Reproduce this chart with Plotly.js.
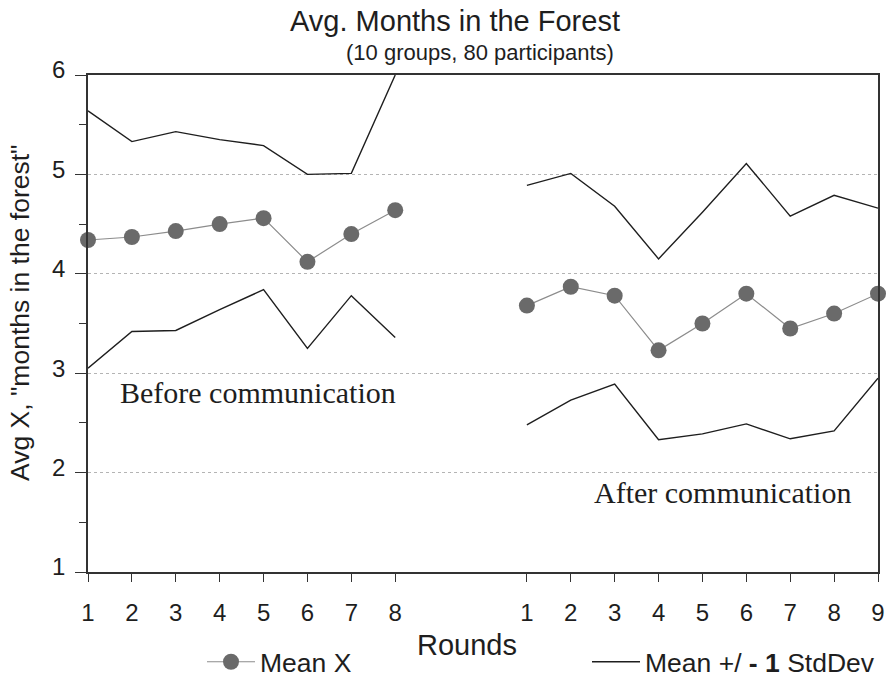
<!DOCTYPE html>
<html>
<head>
<meta charset="utf-8">
<script src="https://cdn.plot.ly/plotly-3.0.1.min.js"></script>
<style>html,body{margin:0;padding:0;background:#fff;}#chart{width:886px;height:679px;}</style>
</head>
<body>
<div id="chart"></div>
<script>
// Axis positions (gap of two empty slots between the two phases)
const beforeX = [1, 2, 3, 4, 5, 6, 7, 8];
const afterX = [11, 12, 13, 14, 15, 16, 17, 18, 19];
const tickPositions = [1, 2, 3, 4, 5, 6, 7, 8, 11, 12, 13, 14, 15, 16, 17, 18, 19];
const tickLabels = ['1','2','3','4','5','6','7','8','1','2','3','4','5','6','7','8','9'];
const yTicks = [1, 2, 3, 4, 5, 6];
const yMinorTicks = [1.5, 2.5, 3.5, 4.5, 5.5];

// Before communication
const beforeMean  = [4.34, 4.37, 4.43, 4.50, 4.56, 4.12, 4.40, 4.64];
const beforeUpper = [5.64, 5.33, 5.43, 5.35, 5.29, 5.00, 5.01, 6.00];
const beforeLower = [3.05, 3.42, 3.43, 3.64, 3.84, 3.25, 3.78, 3.36];

// After communication
const afterMean  = [3.68, 3.87, 3.78, 3.23, 3.50, 3.80, 3.45, 3.60, 3.80];
const afterUpper = [4.89, 5.01, 4.68, 4.15, 4.62, 5.11, 4.58, 4.79, 4.66];
const afterLower = [2.48, 2.73, 2.89, 2.33, 2.39, 2.49, 2.34, 2.42, 2.95];

const SANS = '"Liberation Sans", Arial, Helvetica, sans-serif';
const SERIF = '"Liberation Serif", "Times New Roman", serif';
const INK = '#1e1e1e';
const SD_NAME = 'Mean +/ <b>- 1</b> StdDev';

const meanStyle = {
  mode: 'lines+markers',
  line: {color: '#8c8c8c', width: 1.2},
  marker: {color: '#6a6a6a', size: 16, symbol: 'circle'},
  cliponaxis: false,
  legend: 'legend',
  legendgroup: 'mean',
  hoverinfo: 'x+y'
};
const sdStyle = {
  mode: 'lines',
  line: {color: INK, width: 1.4},
  legend: 'legend2',
  legendgroup: 'sd',
  hoverinfo: 'x+y'
};

const traces = [
  Object.assign({x: beforeX, y: beforeUpper, name: SD_NAME, showlegend: true}, sdStyle),
  Object.assign({x: beforeX, y: beforeLower, name: SD_NAME, showlegend: false}, sdStyle),
  Object.assign({x: afterX, y: afterUpper, name: SD_NAME, showlegend: false}, sdStyle),
  Object.assign({x: afterX, y: afterLower, name: SD_NAME, showlegend: false}, sdStyle),
  Object.assign({x: beforeX, y: beforeMean, name: 'Mean X', showlegend: true}, meanStyle),
  Object.assign({x: afterX, y: afterMean, name: 'Mean X', showlegend: false}, meanStyle)
];

const L = 88, R = 8, T = 75, B = 107, W = 886, H = 679;
const PW = W - L - R, PH = H - T - B;
const px = v => (v - L) / PW;
const py = v => (H - B - v) / PH;

const legendBase = {
  orientation: 'h', xanchor: 'left', yanchor: 'middle',
  font: {family: SANS, size: 26.5, color: INK},
  itemwidth: 48,
  bgcolor: 'rgba(0,0,0,0)', borderwidth: 0,
  itemclick: false, itemdoubleclick: false
};

const layout = {
  width: W, height: H,
  margin: {l: L, r: R, t: T, b: B, pad: 0, autoexpand: false},
  paper_bgcolor: '#fff', plot_bgcolor: '#fff',
  font: {family: SANS, color: INK, size: 22},
  title: {
    text: 'Avg. Months in the Forest',
    font: {family: SANS, size: 29, color: INK},
    x: 455 / W, xanchor: 'center',
    xref: 'container', yref: 'container',
    y: 1 - 21 / H, yanchor: 'middle'
  },
  showlegend: true,
  legend: Object.assign({x: px(202), y: py(662)}, legendBase),
  legend2: Object.assign({x: px(587), y: py(662)}, legendBase),
  xaxis: {
    range: [1, 19],
    tickmode: 'array', tickvals: tickPositions, ticktext: tickLabels,
    ticks: 'outside', ticklen: 8, tickwidth: 1.2, tickcolor: '#333',
    ticklabelstandoff: 10,
    tickfont: {family: SANS, size: 24, color: INK},
    showline: true, linecolor: '#333', linewidth: 1.5, mirror: true,
    showgrid: false, zeroline: false, fixedrange: true
  },
  xaxis2: {
    overlaying: 'x', anchor: 'y', side: 'bottom',
    range: [1, 19],
    tickmode: 'array', tickvals: tickPositions,
    ticks: 'inside', ticklen: 8, tickwidth: 1.2, tickcolor: '#333',
    showticklabels: false, showline: false, showgrid: false, zeroline: false, fixedrange: true
  },
  yaxis: {
    range: [1, 6],
    tickmode: 'array', tickvals: yTicks,
    ticks: 'outside', ticklen: 11, tickwidth: 1.2, tickcolor: '#333',
    ticklabelstandoff: 5, ticklabelshift: -5,
    tickfont: {family: SANS, size: 24, color: INK},
    minor: {tickmode: 'array', tickvals: yMinorTicks, ticks: 'outside', ticklen: 7, tickwidth: 1.2, tickcolor: '#333', showgrid: false},
    showline: true, linecolor: '#333', linewidth: 1.5, mirror: true,
    showgrid: true, gridcolor: '#b4b4b4', gridwidth: 1, griddash: 'dot',
    zeroline: false, fixedrange: true
  },
  yaxis2: {
    overlaying: 'y', anchor: 'x', side: 'left',
    range: [1, 6],
    tickmode: 'array', tickvals: yTicks,
    ticks: 'inside', ticklen: 11, tickwidth: 1.2, tickcolor: '#777',
    minor: {tickmode: 'array', tickvals: yMinorTicks, ticks: 'inside', ticklen: 7, tickwidth: 1.2, tickcolor: '#333', showgrid: false},
    showticklabels: false, showline: false, showgrid: false, zeroline: false, fixedrange: true
  },
  annotations: [
    {text: '(10 groups, 80 participants)', xref: 'paper', yref: 'paper',
     x: px(480), y: py(52), xanchor: 'center', yanchor: 'middle', showarrow: false,
     font: {family: SANS, size: 22, color: INK}},
    {text: 'Avg X, "months in the forest"', xref: 'paper', yref: 'paper',
     x: px(20), y: py(313), xanchor: 'center', yanchor: 'middle', showarrow: false,
     textangle: -90, font: {family: SANS, size: 26.5, color: INK}},
    {text: 'Rounds', xref: 'paper', yref: 'paper',
     x: px(467), y: py(645), xanchor: 'center', yanchor: 'middle', showarrow: false,
     font: {family: SANS, size: 29, color: INK}},
    {text: 'Before communication', xref: 'paper', yref: 'paper',
     x: px(258), y: py(392), xanchor: 'center', yanchor: 'middle', showarrow: false,
     font: {family: SERIF, size: 30, color: INK}},
    {text: 'After communication', xref: 'paper', yref: 'paper',
     x: px(722), y: py(492), xanchor: 'center', yanchor: 'middle', showarrow: false,
     font: {family: SERIF, size: 30, color: INK}}
  ]
};

Plotly.newPlot('chart', traces, layout, {displayModeBar: false, responsive: false});
</script>
</body>
</html>
